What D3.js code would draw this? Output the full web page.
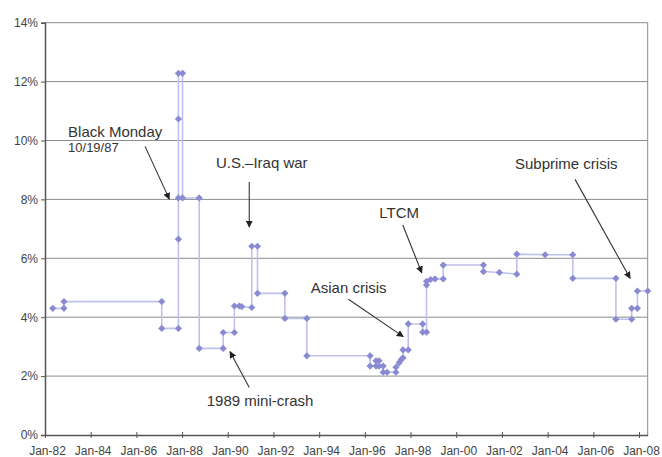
<!DOCTYPE html>
<html>
<head>
<meta charset="utf-8">
<script src="https://cdn.jsdelivr.net/npm/d3@7"></script>
<style>
  html, body { margin: 0; padding: 0; background: #fff; }
  svg { display: block; font-family: "Liberation Sans", Arial, sans-serif; }
</style>
</head>
<body>
<svg id="chart" width="662" height="457"></svg>
<script>
// Dates as fractional years
const dates = [
  1982.34, 1982.83, 1982.83, 1987.11, 1987.11, 1987.84, 1987.84, 1987.84, 1987.84, 1987.84,
  1988.02, 1988.02, 1988.75, 1988.75, 1989.80, 1989.80, 1990.29, 1990.29, 1990.50, 1990.61,
  1991.05, 1991.05, 1991.30, 1991.30, 1992.50, 1992.50, 1993.46, 1993.46, 1996.23, 1996.23,
  1996.49, 1996.49, 1996.62, 1996.62, 1996.80, 1996.80, 1996.97, 1997.36, 1997.36, 1997.50,
  1997.58, 1997.67, 1997.67, 1997.90, 1997.90, 1998.53, 1998.53, 1998.70, 1998.70, 1998.70,
  1998.88, 1999.07, 1999.43, 1999.43, 2001.19, 2001.19, 2001.89, 2002.65, 2002.65, 2003.89,
  2005.10, 2005.10, 2006.99, 2006.99, 2007.68, 2007.68, 2007.93, 2007.93, 2008.38
];
const rates = [
  4.30, 4.30, 4.53, 4.53, 3.62, 3.62, 6.65, 8.05, 10.73, 12.28,
  12.28, 8.05, 8.05, 2.94, 2.94, 3.48, 3.48, 4.38, 4.38, 4.36,
  4.33, 6.41, 6.41, 4.81, 4.81, 3.96, 3.96, 2.69, 2.69, 2.34,
  2.34, 2.52, 2.52, 2.34, 2.34, 2.13, 2.13, 2.13, 2.30, 2.45,
  2.55, 2.62, 2.89, 2.89, 3.77, 3.77, 3.49, 3.49, 5.09, 5.22,
  5.28, 5.30, 5.30, 5.77, 5.77, 5.55, 5.52, 5.46, 6.14, 6.12,
  6.12, 5.32, 5.32, 3.93, 3.93, 4.30, 4.30, 4.89, 4.89
];
const xTickYears = [1982, 1984, 1986, 1988, 1990, 1992, 1994, 1996, 1998, 2000, 2002, 2004, 2006, 2008];
const xTickLabels = ["Jan-82", "Jan-84", "Jan-86", "Jan-88", "Jan-90", "Jan-92", "Jan-94",
                     "Jan-96", "Jan-98", "Jan-00", "Jan-02", "Jan-04", "Jan-06", "Jan-08"];
const yTicks = [0, 2, 4, 6, 8, 10, 12, 14];

// Annotations: label, text anchor point (year, %), arrow from/to (year, %)
const annotations = [
  { lines: ["Black Monday", "10/19/87"], at: [1983.01, 10.12], from: [1986.38, 9.80], to: [1987.44, 8.01] },
  { lines: ["U.S.–Iraq war"], at: [1989.48, 9.06], from: [1990.94, 8.59], to: [1990.94, 7.06] },
  { lines: ["LTCM"], at: [1996.63, 7.38], from: [1997.66, 7.13], to: [1998.49, 5.51] },
  { lines: ["Asian crisis"], at: [1993.63, 4.81], from: [1995.28, 4.61], to: [1997.68, 3.34] },
  { lines: ["Subprime crisis"], at: [2002.57, 9.02], from: [2005.20, 8.68], to: [2007.61, 5.32] },
  { lines: ["1989 mini-crash"], at: [1989.08, 0.99], from: [1990.94, 1.61], to: [1990.10, 2.83] }
];

const svg = d3.select("#chart");
const x = d3.scaleLinear().domain([1982, 2008.38]).range([45, 647.7]);
const y = d3.scaleLinear().domain([0, 14]).range([435, 22.7]);

// horizontal gridlines
svg.append("g").selectAll("line").data(yTicks.filter(d => d > 0)).join("line")
  .attr("x1", x.range()[0]).attr("x2", x.range()[1])
  .attr("y1", d => y(d)).attr("y2", d => y(d))
  .attr("stroke", "#8c8c8c").attr("stroke-width", 1);

// right border
svg.append("line")
  .attr("x1", x.range()[1]).attr("x2", x.range()[1])
  .attr("y1", y(14)).attr("y2", y(0))
  .attr("stroke", "#8c8c8c").attr("stroke-width", 1);

// y axis
const yAxis = d3.axisLeft(y).tickValues(yTicks).tickFormat(d => d + "%").tickSize(4).tickPadding(3);
const gy = svg.append("g").attr("transform", `translate(${x.range()[0]},0)`).call(yAxis);
gy.select(".domain").attr("stroke", "#555").attr("stroke-width", 1.5);
gy.selectAll(".tick line").attr("stroke", "#555");
gy.selectAll(".tick text").attr("font-size", 12).attr("fill", "#444")
  .attr("font-family", "Liberation Sans, Arial, sans-serif");

// x axis
const xAxis = d3.axisBottom(x).tickValues(xTickYears)
  .tickFormat((d, i) => xTickLabels[i]).tickSizeInner(3).tickSizeOuter(0).tickPadding(8);
const gx = svg.append("g").attr("transform", `translate(0,${y(0)})`).call(xAxis);
gx.select(".domain").attr("stroke", "#555").attr("stroke-width", 1.5);
gx.selectAll(".tick line").attr("stroke", "#555").attr("y1", -3).attr("y2", 3);
gx.selectAll(".tick text").attr("font-size", 12).attr("fill", "#444")
  .attr("dx", 2).attr("font-family", "Liberation Sans, Arial, sans-serif");

// data line
const pts = dates.map((d, i) => [d, rates[i]]);
svg.append("path").datum(pts)
  .attr("fill", "none").attr("stroke", "#c0c0ee").attr("stroke-width", 1.6)
  .attr("d", d3.line().x(d => x(d[0])).y(d => y(d[1])));

// diamond markers (equal width and height)
const dm = "M0,-3.6L3.6,0L0,3.6L-3.6,0Z";
svg.append("g").selectAll("path").data(pts).join("path")
  .attr("transform", d => `translate(${x(d[0])},${y(d[1])})`)
  .attr("d", dm).attr("fill", "#8a8ad2");

// arrowhead marker
svg.append("defs").append("marker")
  .attr("id", "arr").attr("viewBox", "0 0 10 10").attr("refX", 9).attr("refY", 5)
  .attr("markerWidth", 7).attr("markerHeight", 7).attr("markerUnits", "userSpaceOnUse")
  .attr("orient", "auto")
  .append("path").attr("d", "M0,0 L10,5 L0,10 z").attr("fill", "#222");

const ann = svg.append("g");
annotations.forEach(a => {
  ann.append("line")
    .attr("x1", x(a.from[0])).attr("y1", y(a.from[1]))
    .attr("x2", x(a.to[0])).attr("y2", y(a.to[1]))
    .attr("stroke", "#333").attr("stroke-width", 1.1)
    .attr("marker-end", "url(#arr)");
  a.lines.forEach((t, i) => {
    ann.append("text")
      .attr("x", x(a.at[0])).attr("y", y(a.at[1]) + i * 15)
      .attr("font-size", i === 0 ? 15 : 13).attr("fill", "#333")
      .text(t);
  });
});
</script>
</body>
</html>
